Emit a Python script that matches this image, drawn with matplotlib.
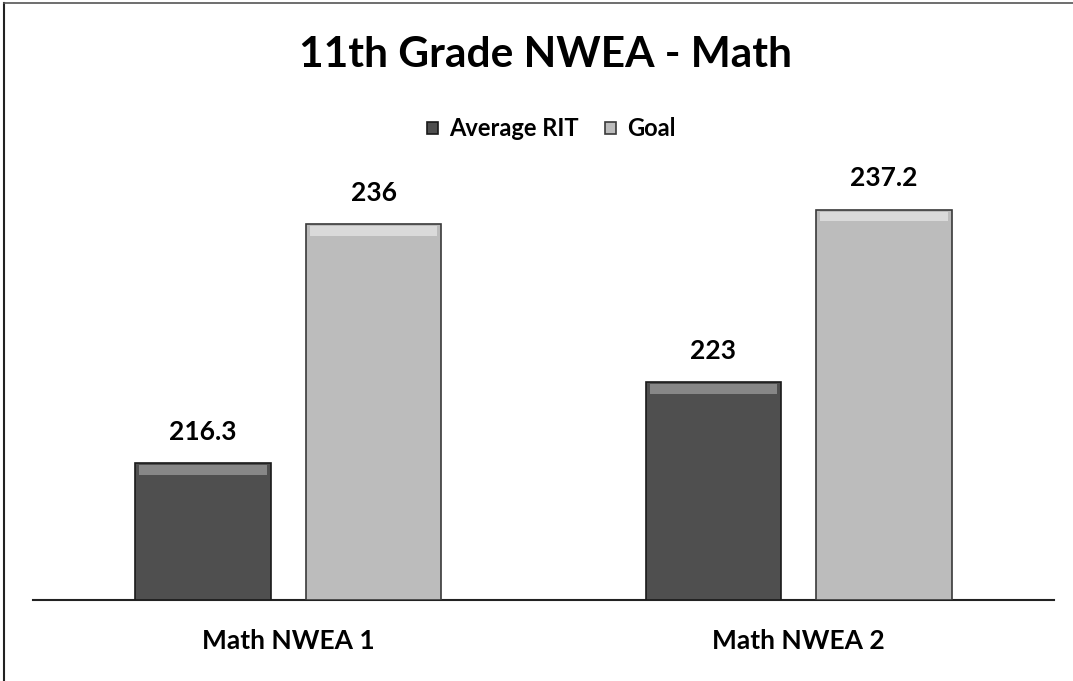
import numpy as np
import matplotlib
matplotlib.use("Agg")
import matplotlib.pyplot as plt
from matplotlib.lines import Line2D

plt.rcParams['font.family'] = ['Lato', 'DejaVu Sans']
plt.rcParams['font.weight'] = 'bold'

categories = ["Math NWEA 1", "Math NWEA 2"]
series_names = ["Average RIT", "Goal"]
avg_rit = [216.3, 223]
goal = [236, 237.2]
labels_avg = ["216.3", "223"]
labels_goal = ["236", "237.2"]

fig = plt.figure(figsize=(10.73, 6.81), dpi=100)
ax = fig.add_axes([33 / 1073, 81 / 681, 1021 / 1073, 440 / 681])

x = np.arange(len(categories))
w = 0.266
off = 0.167
ymin = 205.05

b1 = ax.bar(x - off, np.array(avg_rit) - ymin, w, bottom=ymin, color='#4f4f4f',
            edgecolor='#1a1a1a', linewidth=1.2, label=series_names[0], zorder=3)
b2 = ax.bar(x + off, np.array(goal) - ymin, w, bottom=ymin, color='#bcbcbc',
            edgecolor='#3a3a3a', linewidth=1.2, label=series_names[1], zorder=3)

# bevel highlight at the top of each bar
ax.bar(x - off, 0.8, w * 0.94, bottom=np.array(avg_rit) - 0.95, color='#878787', linewidth=0, zorder=4)
ax.bar(x + off, 0.8, w * 0.94, bottom=np.array(goal) - 0.95, color='#dadada', linewidth=0, zorder=4)

for xi, v, t in zip(x - off, avg_rit, labels_avg):
    ax.text(xi, v + 1.6, t, ha='center', va='bottom', fontsize=19, fontweight='bold')
for xi, v, t in zip(x + off, goal, labels_goal):
    ax.text(xi, v + 1.6, t, ha='center', va='bottom', fontsize=19, fontweight='bold')

ax.set_xlim(-0.5, 1.5)
ax.set_ylim(ymin, 241.3)
ax.set_xticks(x)
ax.set_xticklabels(categories, fontsize=19, fontweight='bold')
ax.tick_params(axis='x', length=0, pad=21)
ax.set_yticks([])
for s in ['top', 'right', 'left']:
    ax.spines[s].set_visible(False)
ax.spines['bottom'].set_color('#222222')
ax.spines['bottom'].set_linewidth(1.5)

fig.text(0.508, 1 - 55 / 681, "11th Grade NWEA - Math", ha='center', va='center',
         fontsize=30.5, fontweight='bold')
fig.legend(handles=[b1, b2], labels=series_names, loc='center', bbox_to_anchor=(0.514, 1 - 129 / 681),
           ncol=2, frameon=False, fontsize=17, handlelength=0.45, handleheight=0.45,
           handletextpad=0.5, columnspacing=1.1)

# frame of the chart area
fig.add_artist(Line2D([4 / 1073, 4 / 1073], [0, 1 - 3 / 681], color='#222222', lw=1.5))
fig.add_artist(Line2D([4 / 1073, 1], [1 - 3 / 681, 1 - 3 / 681], color='#555555', lw=1.2))

fig.savefig("out.png", dpi=100)
